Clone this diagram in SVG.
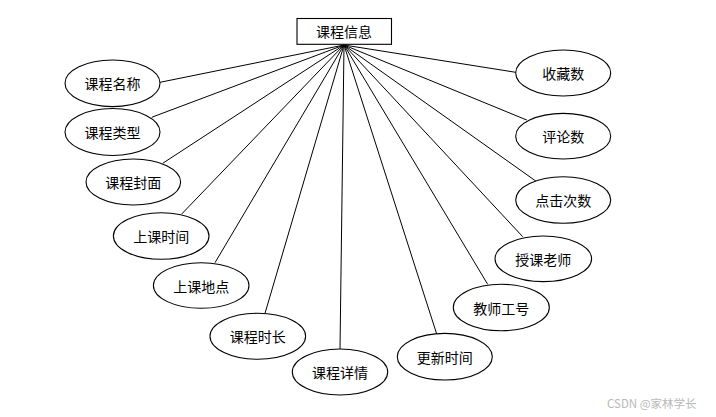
<svg xmlns="http://www.w3.org/2000/svg" width="716" height="417" viewBox="0 0 716 417">
<style>
.n ellipse,.n rect{fill:#fff;stroke:#000;stroke-width:1.1}
.n text{font-family:"Noto Sans CJK SC","Liberation Sans",sans-serif;font-size:14px;fill:#000;text-anchor:middle;dominant-baseline:central}
#edges line{stroke:#000;stroke-width:1}
.wm{font-family:"Noto Sans CJK SC","Liberation Sans",sans-serif;font-size:11.5px;fill:#b8b8b8}
</style>
<rect width="716" height="417" fill="#fff"/>
<g id="edges">
<line x1="344" y1="45" x2="160" y2="82.3"/>
<line x1="344" y1="45" x2="151.7" y2="117.3"/>
<line x1="344" y1="45" x2="162.7" y2="163.3"/>
<line x1="344" y1="45" x2="181.7" y2="214"/>
<line x1="344" y1="45" x2="215" y2="262.7"/>
<line x1="344" y1="45" x2="265" y2="313.3"/>
<line x1="344" y1="45" x2="340" y2="349"/>
<line x1="344" y1="45" x2="436.7" y2="334"/>
<line x1="344" y1="45" x2="487.7" y2="284.3"/>
<line x1="344" y1="45" x2="522.7" y2="236.7"/>
<line x1="344" y1="45" x2="536.7" y2="181.7"/>
<line x1="344" y1="45" x2="526.7" y2="120"/>
<line x1="344" y1="45" x2="515.7" y2="72.3"/>
</g>
<g id="root" class="n"><rect x="297" y="18.5" width="94.5" height="25.8"/><text x="344" y="31">课程信息</text></g>
<g id="a1" class="n"><ellipse cx="112.5" cy="83.3" rx="47.5" ry="23.3"/><text x="112.5" y="83.3">课程名称</text></g>
<g id="a2" class="n"><ellipse cx="112.5" cy="132" rx="47.5" ry="23.5"/><text x="112.5" y="132">课程类型</text></g>
<g id="a3" class="n"><ellipse cx="133.3" cy="182" rx="47.3" ry="23"/><text x="133.3" y="182">课程封面</text></g>
<g id="a4" class="n"><ellipse cx="161.2" cy="236" rx="47.8" ry="23.3"/><text x="161.2" y="236">上课时间</text></g>
<g id="a5" class="n"><ellipse cx="201.2" cy="285.5" rx="47.8" ry="22.8"/><text x="201.2" y="285.5">上课地点</text></g>
<g id="a6" class="n"><ellipse cx="257.8" cy="336.3" rx="47.8" ry="23"/><text x="257.8" y="336.3">课程时长</text></g>
<g id="a7" class="n"><ellipse cx="340" cy="372" rx="47.7" ry="23"/><text x="340" y="372">课程详情</text></g>
<g id="a8" class="n"><ellipse cx="444.8" cy="356.7" rx="47.5" ry="23.3"/><text x="444.8" y="356.7">更新时间</text></g>
<g id="a9" class="n"><ellipse cx="501.3" cy="307.5" rx="48" ry="23.2"/><text x="501.3" y="307.5">教师工号</text></g>
<g id="a10" class="n"><ellipse cx="543.3" cy="258.8" rx="48.3" ry="22.8"/><text x="543.3" y="258.8">授课老师</text></g>
<g id="a11" class="n"><ellipse cx="563.2" cy="200" rx="47.5" ry="23.3"/><text x="563.2" y="200">点击次数</text></g>
<g id="a12" class="n"><ellipse cx="563.2" cy="136.2" rx="47.5" ry="22.8"/><text x="563.2" y="136.2">评论数</text></g>
<g id="a13" class="n"><ellipse cx="563.2" cy="73" rx="47.5" ry="23"/><text x="563.2" y="73">收藏数</text></g>
<text class="wm" x="607" y="408">CSDN @家林学长</text>
</svg>
